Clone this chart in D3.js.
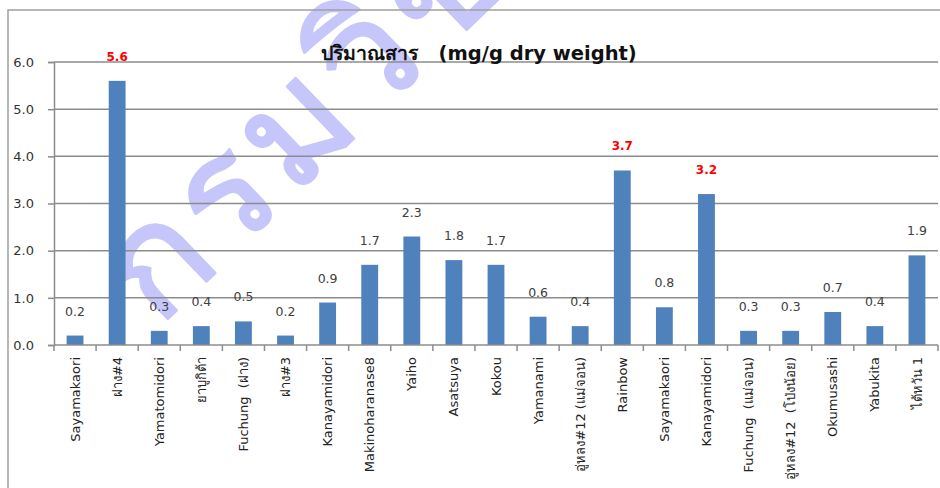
<!DOCTYPE html>
<html><head><meta charset="utf-8">
<script src="https://cdn.jsdelivr.net/npm/d3@7/dist/d3.min.js"></script>
<style>
html,body{margin:0;padding:0;background:#fff;}
svg{display:block;}
text{font-family:"DejaVu Sans","Noto Sans",sans-serif;}
</style></head><body>
<svg id="chart" width="940" height="488"></svg>
<script>
const categories = ["Sayamakaori","ฝาง#4","Yamatomidori","ยาบูกิต้า","Fuchung  (ฝาง)","ฝาง#3","Kanayamidori","Makinoharanase8","Yaiho","Asatsuya","Kokou","Yamanami","อู่หลง#12 (แม่จอน)","Rainbow","Sayamakaori","Kanayamidori","Fuchung  (แม่จอน)","อู่หลง#12  (โป่งน้อย)","Okumusashi","Yabukita","ไต้หวัน 1"];
const values = [0.2,5.6,0.3,0.4,0.5,0.2,0.9,1.7,2.3,1.8,1.7,0.6,0.4,3.7,0.8,3.2,0.3,0.3,0.7,0.4,1.9];
const highlighted = [1,13,15];
const yTicks = [0,1,2,3,4,5,6];
const title = "ปริมาณสาร   (mg/g dry weight)";
const watermark = "กรมวิชาการ";

const svg = d3.select("#chart");
const mLeft = 54, mRight = 938, mTop = 62, mBottom = 345;

// watermark (behind everything)
svg.append("text").attr("transform","translate(158,328) rotate(-44)")
  .style("font-size","150px").style("font-weight","normal").style("letter-spacing","8px")
  .attr("fill","#c6c6fa").attr("stroke","#c6c6fa").attr("stroke-width",3)
  .attr("stroke-linejoin","round").text(watermark);

// frame
svg.append("rect").attr("x",8).attr("y",10).attr("width",960).attr("height",500)
  .attr("fill","none").attr("stroke","#a0a0a0").attr("stroke-width",1.5);

const x = d3.scaleBand().domain(d3.range(categories.length)).range([mLeft,mRight])
  .paddingInner(0.6).paddingOuter(0.3);
const y = d3.scaleLinear().domain([0,6]).range([mBottom,mTop]);

// gridlines
svg.append("g").selectAll("line").data(yTicks.filter(d=>d>0)).join("line")
  .attr("x1",mLeft).attr("x2",mRight).attr("y1",d=>y(d)).attr("y2",d=>y(d))
  .attr("stroke","#8c8c8c").attr("stroke-width",1.5);

// y axis
const yAxis = d3.axisLeft(y).tickValues(yTicks).tickFormat(d3.format(".1f")).tickSize(6).tickPadding(14);
const gy = svg.append("g").attr("transform",`translate(${mLeft},0)`).call(yAxis);
gy.select(".domain").attr("stroke","#8c8c8c").attr("stroke-width",1.5);
gy.selectAll(".tick line").attr("stroke","#8c8c8c").attr("stroke-width",1.5);
gy.selectAll(".tick text").attr("fill","#333").style("font-size","13px");

// bars
svg.append("g").selectAll("rect").data(values).join("rect")
  .attr("x",(d,i)=>x(i)).attr("width",x.bandwidth())
  .attr("y",d=>y(d)).attr("height",d=>mBottom-y(d))
  .attr("fill","#4f81bd");

// x axis
const step = x.step();
const gx = svg.append("g").attr("transform",`translate(0,${mBottom})`);
gx.append("line").attr("x1",mLeft).attr("x2",mRight).attr("stroke","#8c8c8c").attr("stroke-width",1.5);
gx.selectAll("line.tk").data(d3.range(categories.length+1)).join("line").attr("class","tk")
  .attr("x1",i=>mLeft+i*step).attr("x2",i=>mLeft+i*step).attr("y1",0).attr("y2",6)
  .attr("stroke","#8c8c8c").attr("stroke-width",1.5);
gx.selectAll("text").data(categories).join("text")
  .attr("transform",(d,i)=>`translate(${x(i)+x.bandwidth()/2},12) rotate(-90)`)
  .attr("text-anchor","end").attr("dy","0.35em")
  .style("font-size","13px").style("white-space","pre").attr("fill","#222")
  .text(d=>d);

// data labels
svg.append("g").selectAll("text").data(values).join("text")
  .attr("x",(d,i)=>x(i)+x.bandwidth()/2).attr("y",d=>y(d)-20)
  .attr("text-anchor","middle")
  .style("font-size",(d,i)=>highlighted.includes(i)?"12px":"12.5px")
  .style("font-weight",(d,i)=>highlighted.includes(i)?"bold":"normal")
  .attr("fill",(d,i)=>highlighted.includes(i)?"#ff0000":"#404040")
  .text(d=>d3.format(".1f")(d));

// title
svg.append("text").attr("x",479).attr("y",60).attr("text-anchor","middle")
  .style("font-size","19.5px").style("font-weight","bold").style("white-space","pre")
  .attr("fill","#111").text(title);
</script>
</body></html>
